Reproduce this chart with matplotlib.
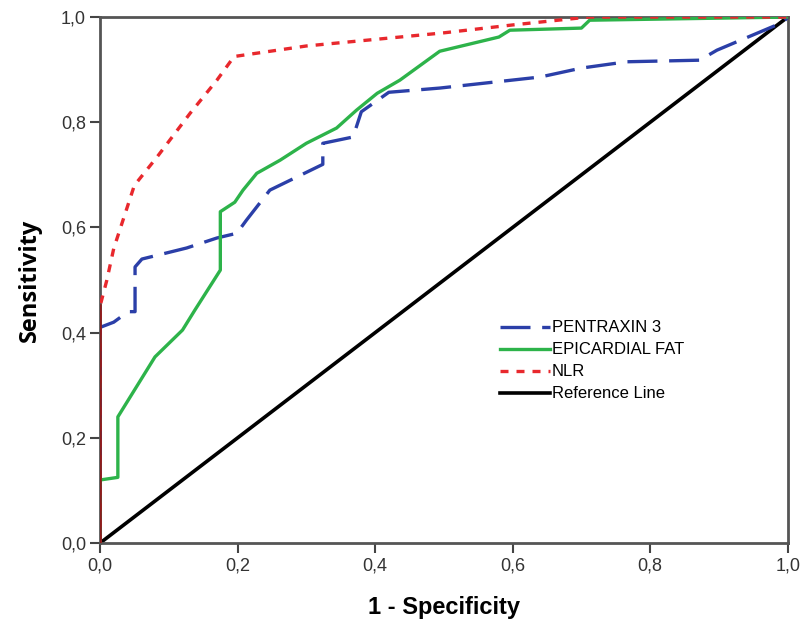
import matplotlib
matplotlib.use('Agg')
import matplotlib.pyplot as plt

plt.rcParams['font.family'] = ['Liberation Sans', 'DejaVu Sans']

# ROC curves (1 - specificity, sensitivity)
ptx_x = [0.0, 0.0, 0.02, 0.041, 0.051, 0.051, 0.061, 0.126, 0.17, 0.199, 0.213, 0.247,
         0.324, 0.324, 0.368, 0.38, 0.42, 0.494, 0.64, 0.70, 0.766, 0.872, 0.897, 0.993, 1.0]
ptx_y = [0.0, 0.41, 0.42, 0.44, 0.44, 0.525, 0.54, 0.561, 0.58, 0.589, 0.614, 0.671,
         0.72, 0.76, 0.772, 0.82, 0.857, 0.865, 0.886, 0.903, 0.915, 0.918, 0.937, 0.99, 1.0]

fat_x = [0.0, 0.0, 0.026, 0.026, 0.08, 0.12, 0.138, 0.175, 0.175, 0.196, 0.208, 0.228,
         0.262, 0.30, 0.344, 0.373, 0.403, 0.436, 0.494, 0.58, 0.596, 0.70, 0.712, 1.0]
fat_y = [0.0, 0.12, 0.125, 0.24, 0.354, 0.405, 0.443, 0.519, 0.63, 0.648, 0.671, 0.703,
         0.728, 0.76, 0.789, 0.823, 0.855, 0.88, 0.935, 0.962, 0.975, 0.979, 0.994, 1.0]

nlr_x = [0.0, 0.0, 0.01, 0.02, 0.03, 0.05, 0.083, 0.131, 0.17, 0.195, 0.30, 0.50, 0.60, 0.71, 1.0]
nlr_y = [0.0, 0.45, 0.50, 0.56, 0.60, 0.68, 0.734, 0.817, 0.88, 0.925, 0.945, 0.97, 0.985, 1.0, 1.0]

ref_x = [0.0, 1.0]
ref_y = [0.0, 1.0]

ticks = [0.0, 0.2, 0.4, 0.6, 0.8, 1.0]
tick_labels = ['0,0', '0,2', '0,4', '0,6', '0,8', '1,0']

fig = plt.figure(figsize=(8.03, 6.2), dpi=100)
ax = fig.add_axes([0.1245, 0.124, 0.8565, 0.8485])

ax.plot(ref_x, ref_y, color='black', lw=2.6, label='Reference Line', zorder=2)
ax.plot(ptx_x, ptx_y, color='#2b3fa8', lw=2.4, dashes=(9, 3.5), label='PENTRAXIN 3', zorder=3)
ax.plot(fat_x, fat_y, color='#2db34a', lw=2.4, label='EPICARDIAL FAT', zorder=3)
ax.plot(nlr_x, nlr_y, color='#e8282d', lw=2.4, dashes=(2.4, 2.4), label='NLR', zorder=4)
# overlapping start of all curves on the y axis shows as one dark red line
ax.plot(nlr_x[:2], nlr_y[:2], color='#8c1c1c', lw=2.6, zorder=5)

ax.set_xlim(0, 1)
ax.set_ylim(0, 1)
ax.set_xticks(ticks)
ax.set_xticklabels(tick_labels)
ax.set_yticks(ticks)
ax.set_yticklabels(tick_labels)
ax.tick_params(direction='out', length=7, width=1.5, color='#444444',
               labelsize=13, labelcolor='#333333', pad=3)
for s in ax.spines.values():
    s.set_color('#555555')
    s.set_linewidth(2)

ax.set_ylabel('Sensitivity', fontsize=17, fontweight='bold', family=['Open Sans', 'DejaVu Sans'],
              labelpad=14)
ax.set_xlabel('1 - Specificity', fontsize=17, fontweight='bold', labelpad=16)

handles, labels = ax.get_legend_handles_labels()
order = [1, 2, 3, 0]
leg = ax.legend([handles[i] for i in order], [labels[i] for i in order],
                loc='upper left', bbox_to_anchor=(0.56, 0.452), frameon=False,
                fontsize=12, handlelength=3.0, handletextpad=0.1, labelspacing=0.42)

fig.savefig('out.png', dpi=100)
